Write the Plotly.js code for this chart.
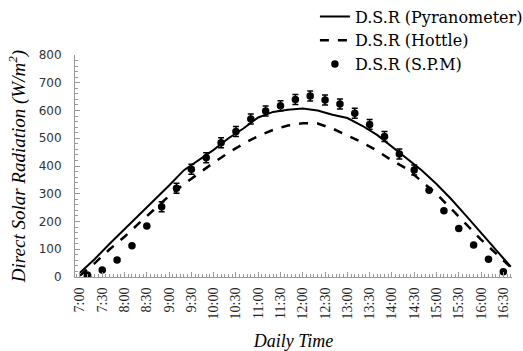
<!DOCTYPE html>
<html>
<head>
<meta charset="utf-8">
<script src="https://cdn.plot.ly/plotly-3.0.1.min.js"></script>
<style>html,body{margin:0;padding:0;background:#fff;}#chart{width:523px;height:351px;}</style>
</head>
<body>
<div id="chart"></div>
<script>
// Line data times (every 20 min)
const lineTimes = ["7:00","7:20","7:40","8:00","8:20","8:40","9:00","9:20","9:40","10:00",
  "10:20","10:40","11:00","11:20","11:40","12:00","12:20","12:40","13:00","13:20",
  "13:40","14:00","14:20","14:40","15:00","15:20","15:40","16:00","16:20","16:40"];
const pyranometer = [15,65,120,172,225,278,330,385,420,458,
  500,535,575,595,603,607,600,585,573,545,
  512,470,430,385,335,280,220,160,100,37];
const hottle = [5,50,100,145,195,245,292,335,375,412,
  448,480,508,530,546,554,553,535,510,485,
  455,420,390,345,300,245,190,135,85,35];
// SPM measurement times (every 20 min)
const spmTimes = ["7:10","7:30","7:50","8:10","8:30","8:50","9:10","9:30","9:50","10:10",
  "10:30","10:50","11:10","11:30","11:50","12:10","12:30","12:50","13:10","13:30",
  "13:50","14:10","14:30","14:50","15:10","15:30","15:50","16:10","16:30"];
const spm = [7,25,61,113,184,253,320,388,430,484,
  524,569,598,617,640,652,638,623,590,550,
  506,443,386,313,239,175,115,64,19];
const spmErr = [0,0,0,0,0,18,18,18,18,18,
  18,18,18,18,18,18,18,18,18,18,
  18,18,18,0,0,0,0,0,0];

function toDate(t){
  const p = t.split(":");
  const h = p[0].padStart(2,"0");
  return "2000-01-01 " + h + ":" + p[1] + ":00";
}

const serif = "Liberation Serif, DejaVu Serif, serif";
const serifWide = "DejaVu Serif, Liberation Serif, serif";

const traces = [
  {x: lineTimes.map(toDate), y: pyranometer, name: "D.S.R (Pyranometer)", type: "scatter", mode: "lines",
   line: {color: "#000", width: 2}},
  {x: lineTimes.map(toDate), y: hottle, name: "D.S.R (Hottle)", type: "scatter", mode: "lines",
   line: {color: "#000", width: 2.5, dash: "dash"}},
  {x: spmTimes.map(toDate), y: spm, name: "D.S.R (S.P.M)", type: "scatter", mode: "markers",
   marker: {color: "#000", size: 7.5},
   error_y: {type: "data", array: spmErr, visible: true, color: "#000", thickness: 1.5, width: 3}}
];

const layout = {
  width: 523, height: 351,
  margin: {l: 75, r: 11, t: 55, b: 74, autoexpand: false},
  paper_bgcolor: "#fff", plot_bgcolor: "#fff",
  showlegend: true,
  legend: {x: 0.549, y: 1.25, xanchor: "left", yanchor: "top", bgcolor: "rgba(0,0,0,0)",
    font: {family: serifWide, size: 16, color: "#000"}, tracegroupgap: 0, itemwidth: 30},
  xaxis: {
    type: "date",
    range: ["2000-01-01 06:53:20", "2000-01-01 16:41:40"],
    tick0: "2000-01-01 07:00:00", dtick: 1800000,
    tickformat: "%-H:%M", tickangle: -90,
    ticks: "inside", ticklen: 5, tickcolor: "#999",
    minor: {dtick: 300000, ticks: "inside", ticklen: 3, tickcolor: "#999"},
    showline: true, linecolor: "#999", linewidth: 1,
    showgrid: false, zeroline: false,
    tickfont: {family: serif, size: 14, color: "#222"},
    ticklabelstandoff: 4,
    title: {text: "Daily Time", font: {family: serif, size: 18, style: "italic", color: "#000"}, standoff: 16}
  },
  yaxis: {
    range: [0, 800], dtick: 100,
    ticks: "inside", ticklen: 5, tickcolor: "#999",
    minor: {dtick: 20, ticks: "inside", ticklen: 3, tickcolor: "#999"},
    showline: true, linecolor: "#999", linewidth: 1,
    showgrid: false, zeroline: false,
    tickfont: {family: "DejaVu Sans, sans-serif", size: 12, color: "#333"},
    ticklabelstandoff: 10,
    title: {text: "Direct Solar Radiation (W/m<sup>2</sup>)", font: {family: serif, size: 19, style: "italic", color: "#000"}, standoff: 8}
  }
};

Plotly.newPlot("chart", traces, layout, {displayModeBar: false, staticPlot: true});
</script>
</body>
</html>
